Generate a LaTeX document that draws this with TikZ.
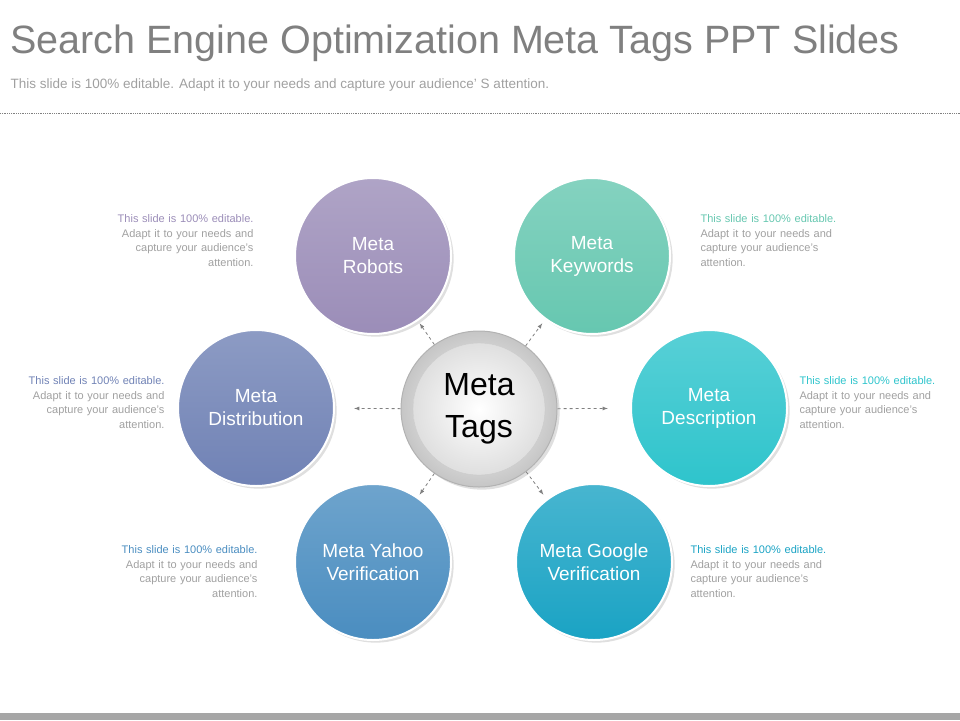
\documentclass[tikz,border=0pt]{standalone}
\usepackage{fontspec}
\setmainfont{Liberation Sans}
\usetikzlibrary{shadows,calc}
\definecolor{robots}{HTML}{9B8DB8}
\definecolor{keywords}{HTML}{66C7B0}
\definecolor{distrib}{HTML}{7082B5}
\definecolor{descr}{HTML}{2EC4CC}
\definecolor{yahoo}{HTML}{4A8DC0}
\definecolor{google}{HTML}{1AA3C4}
\definecolor{notegray}{HTML}{A0A0A0}
\begin{document}
\begin{tikzpicture}[x=1pt,y=-1pt,
  every node/.style = {font=\fontsize{19}{23}\selectfont, align=center},
  bubble/.style = {circle, minimum size=156pt, text=white, draw=white, line width=2pt,
    drop shadow={opacity=.25}},
  note/.style = {font=\fontsize{11}{14.5}\selectfont, text=notegray, text width=170pt},
  link/.style = {draw=gray, dashed, -latex, thick}]
  \useasboundingbox (0,0) rectangle (960,720);
  \fill[gray!70] (0,713) rectangle (960,720);
  \node[anchor=west, text=gray, font=\fontsize{39.5}{44}\selectfont] (title) at (7,43)
    {Search Engine Optimization Meta Tags PPT Slides};
  \node[anchor=west, text=notegray, font=\fontsize{13.5}{16}\selectfont] (sub) at (7,85)
    {This slide is 100\% editable. Adapt it to your needs and capture your audience' S attention.};
  \draw[gray, densely dotted, thick] (0,113) -- (960,113);
  % centre
  \node[circle, minimum size=156pt, draw=gray!60, line width=1pt, inner color=white, outer color=gray!45,
    drop shadow={opacity=.25}] (tags) at (479,409) {};
  \node[circle, minimum size=132pt, inner color=white, outer color=gray!25, draw=gray!40,
    font=\fontsize{32}{42}\selectfont] (tagsin) at (479,409) {Meta\\Tags};
  % bubbles
  \node[bubble, top color=robots!80, bottom color=robots] (robots) at (373,256) {Meta\\Robots};
  \node[bubble, top color=keywords!80, bottom color=keywords] (keywords) at (592,256) {Meta\\Keywords};
  \node[bubble, top color=distrib!80, bottom color=distrib] (distrib) at (256,408) {Meta\\Distribution};
  \node[bubble, top color=descr!80, bottom color=descr] (descr) at (709,408) {Meta\\Description};
  \node[bubble, top color=yahoo!80, bottom color=yahoo] (yahoo) at (373,562) {Meta Yahoo\\Verification};
  \node[bubble, top color=google!80, bottom color=google] (google) at (594,562) {Meta Google\\Verification};
  % connectors
  \foreach \t in {robots,keywords,distrib,descr,yahoo,google}
    \path[link] (tags) -- ($(tags)!0.56!(\t)$);
  % notes
  \node[note, align=right, anchor=north east] (n1) at (257,211)
    {\textcolor{robots}{This slide is 100\% editable.}\\Adapt it to your needs and\\capture your audience's\\attention.};
  \node[note, align=left, anchor=north west] (n2) at (697,211)
    {\textcolor{keywords}{This slide is 100\% editable.}\\Adapt it to your needs and\\capture your audience's\\attention.};
  \node[note, align=right, anchor=north east] (n3) at (168,373)
    {\textcolor{distrib}{This slide is 100\% editable.}\\Adapt it to your needs and\\capture your audience's\\attention.};
  \node[note, align=left, anchor=north west] (n4) at (796,373)
    {\textcolor{descr}{This slide is 100\% editable.}\\Adapt it to your needs and\\capture your audience's\\attention.};
  \node[note, align=right, anchor=north east] (n5) at (261,542)
    {\textcolor{yahoo}{This slide is 100\% editable.}\\Adapt it to your needs and\\capture your audience's\\attention.};
  \node[note, align=left, anchor=north west] (n6) at (687,542)
    {\textcolor{google}{This slide is 100\% editable.}\\Adapt it to your needs and\\capture your audience's\\attention.};
\end{tikzpicture}
\end{document}
